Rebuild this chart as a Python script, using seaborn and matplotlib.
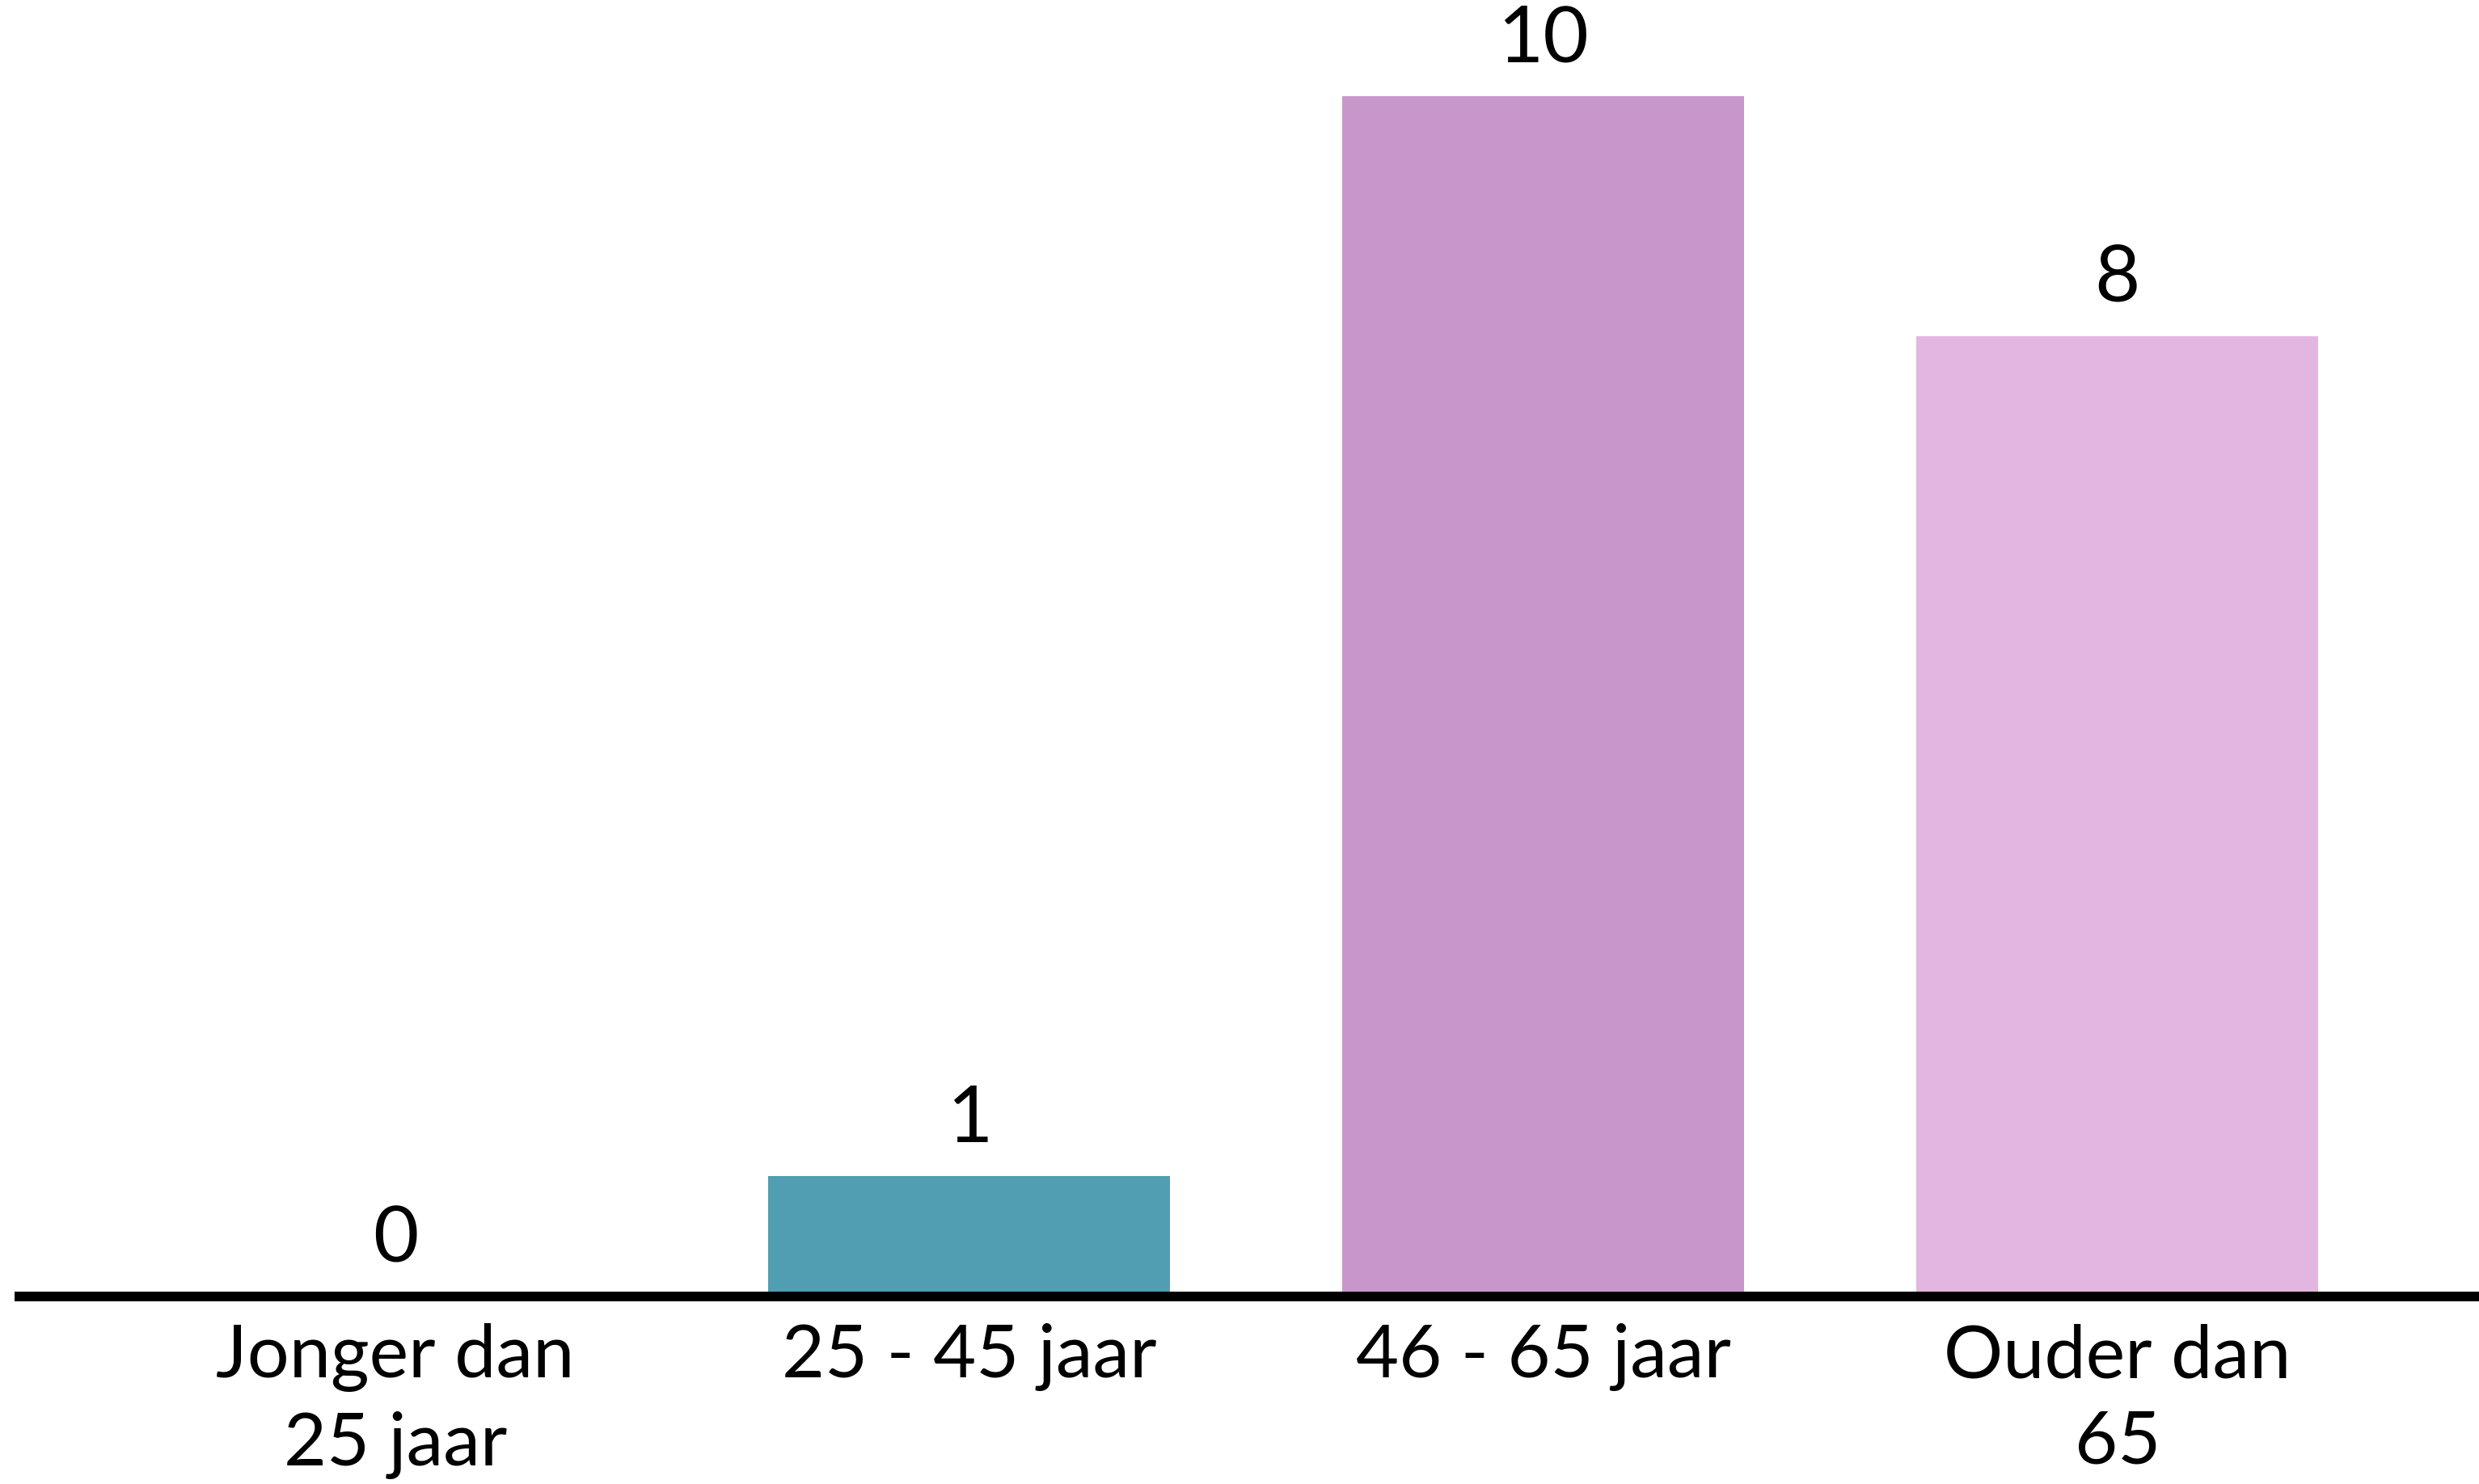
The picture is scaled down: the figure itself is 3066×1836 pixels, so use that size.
import matplotlib
matplotlib.use("Agg")
import matplotlib.pyplot as plt
import seaborn as sns
import pandas as pd

categories = ["Jonger dan\n25 jaar", "25 - 45 jaar", "46 - 65 jaar", "Ouder dan\n65"]
values = [0, 1, 10, 8]
colors = ["#519DB2", "#519DB2", "#C896CA", "#E2B6E0"]

df = pd.DataFrame({"cat": categories, "val": values})

sns.set_theme(style="white")
plt.rcParams["font.family"] = ["Lato", "DejaVu Sans"]

fig = plt.figure(figsize=(15.33, 9.18), dpi=200)
ax = fig.add_axes([0.0078, 0.1264, 0.9922, 0.8736])

sns.barplot(data=df, x="cat", y="val", hue="cat", palette=colors,
            legend=False, width=0.70, saturation=1, ax=ax, edgecolor="none")

ax.set_xlim(-0.655, 3.63)
ax.set_ylim(0, 10.8)
for c in ax.containers:
    ax.bar_label(c, labels=[str(int(round(v))) for v in c.datavalues], padding=9,
                 fontsize=35, color="#000000")

for s in ["top", "right", "left"]:
    ax.spines[s].set_visible(False)
ax.spines["bottom"].set_color("#000000")
ax.spines["bottom"].set_linewidth(4.3)
ax.set_yticks([])
ax.set_xlabel("")
ax.set_ylabel("")
ax.tick_params(axis="x", length=0, pad=12, labelsize=33, colors="#000000")
for t in ax.get_xticklabels():
    t.set_linespacing(1.35)

fig.savefig("out.png", dpi=200, facecolor="white")
